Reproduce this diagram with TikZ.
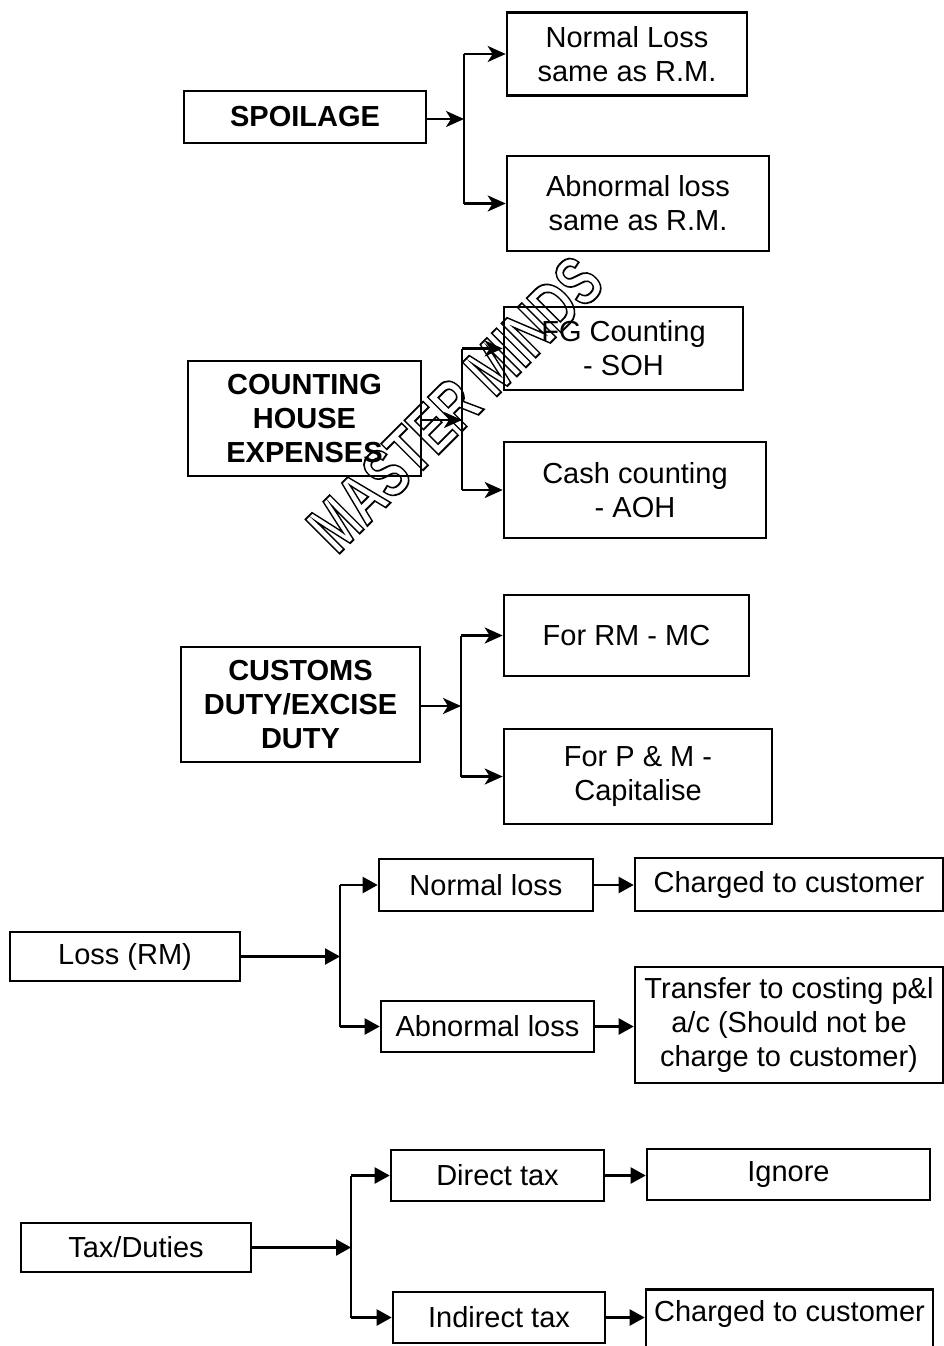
\documentclass[tikz,border=0pt]{standalone}
\usepackage{fontspec}
\setmainfont{Liberation Sans}
\usetikzlibrary{arrows.meta}
\newcommand\fsz{\fontsize{29}{34}\selectfont}
\newcommand\wmfont{\fontsize{52}{52}\selectfont\bfseries}
\tikzset{
  box/.style={draw, line width=2.6pt, inner sep=2pt, align=center, font=\fsz},
  bbox/.style={box, font=\fsz\bfseries},
  conn/.style={line width=2.5pt, -{Stealth[length=18pt,width=16pt,inset=5pt]}},
  line/.style={line width=2.5pt},
  conn2/.style={line width=2.3pt, -{Triangle[length=15pt,width=16pt]}},
}
\begin{document}
\begin{tikzpicture}[x=1pt,y=-1pt]
\useasboundingbox (0,0) rectangle (944,1346);
\clip (0,0) rectangle (944,1346);
% Section 1
\node[bbox, minimum width=242pt, minimum height=52pt] (sp) at (305,117) {SPOILAGE};
\node[box, minimum width=240pt, minimum height=83pt] (nl1) at (627,54) {Normal Loss\\same as R.M.};
\node[box, minimum width=262pt, minimum height=95pt] (ab1) at (638,203.5) {Abnormal loss\\same as R.M.};
\coordinate (b1) at (464,119);
\draw[conn] (sp.east |- b1) -- (b1);
\draw[line] (b1 |- nl1.west) -- (b1 |- ab1.west);
\draw[conn] (b1 |- nl1.west) -- (nl1.west);
\draw[conn] (b1 |- ab1.west) -- (ab1.west);
% Section 2
\node[bbox, minimum width=233pt, minimum height=115pt] (che) at (304.5,418.5) {COUNTING\\HOUSE\\EXPENSES};
\node[box, minimum width=239pt, minimum height=83pt] (fg) at (623.5,348.5) {FG Counting\\- SOH};
\node[box, minimum width=262pt, minimum height=96pt] (cash) at (635,490) {Cash counting\\- AOH};
\coordinate (b2) at (462,420);
\draw[conn] (che.east |- b2) -- (b2);
\draw[line] (b2 |- fg.west) -- (b2 |- cash.west);
\draw[conn] (b2 |- fg.west) -- (fg.west);
\draw[conn] (b2 |- cash.west) -- (cash.west);
% Section 3
\node[bbox, minimum width=239pt, minimum height=115pt] (cd) at (300.5,704.5) {CUSTOMS\\DUTY/EXCISE\\DUTY};
\node[box, minimum width=245pt, minimum height=81pt] (rm) at (626.5,635.5) {For RM - MC};
\node[box, minimum width=268pt, minimum height=95pt] (pm) at (638,776.5) {For P \& M -\\Capitalise};
\coordinate (b3) at (461,706);
\draw[conn] (cd.east |- b3) -- (b3);
\draw[line] (b3 |- rm.west) -- (b3 |- pm.west);
\draw[conn] (b3 |- rm.west) -- (rm.west);
\draw[conn] (b3 |- pm.west) -- (pm.west);
% Section 4
\node[box, minimum width=230pt, minimum height=49pt] (loss) at (125,956.5) {Loss (RM)};
\node[box, minimum width=214pt, minimum height=52pt] (nl) at (486,885) {Normal loss};
\node[box, minimum width=213pt, minimum height=51pt] (abl) at (487.5,1026.5) {Abnormal loss};
\node[box, minimum width=308pt, minimum height=53pt] (ch1) at (789,884.5) {Charged to customer};
\node[box, minimum width=308pt, minimum height=116pt] (tr) at (789,1025) {Transfer to costing p\&l\\a/c (Should not be\\charge to customer)};
\coordinate (b4) at (340,956.5);
\draw[conn2] (loss.east) -- (b4);
\draw[line] (b4 |- nl.west) -- (b4 |- abl.west);
\draw[conn2] (b4 |- nl.west) -- (nl.west);
\draw[conn2] (b4 |- abl.west) -- (abl.west);
\draw[conn2] (nl.east) -- (ch1.west |- nl.east);
\draw[conn2] (abl.east) -- (tr.west |- abl.east);
% Section 5
\node[box, minimum width=230pt, minimum height=49pt] (tax) at (136,1247.5) {Tax/Duties};
\node[box, minimum width=213pt, minimum height=51pt] (dt) at (497.5,1175.5) {Direct tax};
\node[box, minimum width=283pt, minimum height=51pt] (ig) at (788.5,1174.5) {Ignore};
\node[box, minimum width=212pt, minimum height=51pt] (it) at (499,1317.5) {Indirect tax};
\node[box, anchor=north, minimum width=287pt, minimum height=100pt, text height=24pt, text depth=60pt] (ch2) at (789.5,1288) {Charged to customer};
\coordinate (b5) at (351,1247.5);
\draw[conn2] (tax.east) -- (b5);
\draw[line] (b5 |- dt.west) -- (b5 |- it.west);
\draw[conn2] (b5 |- dt.west) -- (dt.west);
\draw[conn2] (b5 |- it.west) -- (it.west);
\draw[conn2] (dt.east) -- (ig.west |- dt.east);
\draw[conn2] (it.east) -- (ch2.west |- it.east);
% Watermark (outlined text)
\node[rotate=45, xscale=0.95, yscale=1.35, font=\wmfont, inner sep=0pt] (wm) at (455,404) {\special{pdf:literal direct 1 Tr 1.4 w}MASTER MINDS\special{pdf:literal direct 0 Tr}};
\end{tikzpicture}
\end{document}
